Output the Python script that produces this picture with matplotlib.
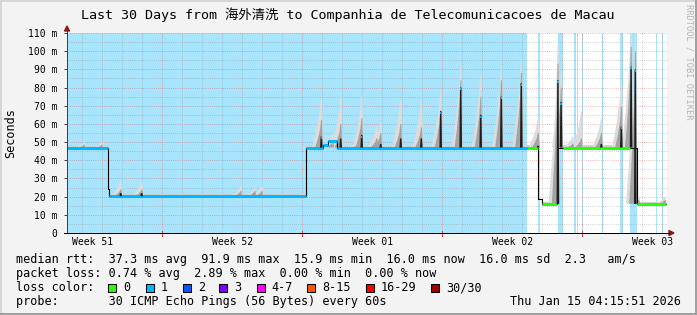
import matplotlib
matplotlib.use("Agg")
import matplotlib.pyplot as plt
from matplotlib.lines import Line2D
from matplotlib.patches import Polygon, Rectangle

W, H = 697, 315

title = "Last 30 Days from 海外清洗 to Companhia de Telecomunicacoes de Macau"

# median rtt (ms) as flat steps, days counted from the left edge of the graph
seg_start = [0.00, 2.05, 2.12, 11.93, 11.97, 12.80, 13.05, 13.50, 22.98, 23.57, 23.73, 24.52, 24.78, 28.15, 28.50]
seg_end   = [2.05, 2.12, 11.93, 11.97, 12.80, 13.05, 13.50, 22.98, 23.57, 23.73, 24.52, 24.78, 28.15, 28.50, 29.93]
seg_rtt   = [46.5, 24.0, 20.3, 23.3, 47.0, 48.4, 50.8, 47.0, 47.0, 18.5, 16.0, 47.0, 47.0, 47.0, 16.0]
seg_loss  = [1, -1, 1, 1, 1, 1, 1, 1, 0, -1, 0, -1, 0, -1, 0]
seg_haze  = [48.5, 24.0, 21.8, 23.3, 48.5, 49.5, 52.0, 48.5, 48.5, 18.5, 17.2, 47.0, 48.5, 47.0, 17.2]

# smoke spikes: day, base, top of light smoke, top of darker smoke, top of dark core (0 = none)
spike_day  = [0.85, 1.75, 2.70, 3.75, 8.70, 9.40, 9.75, 12.73, 13.30, 13.70, 14.50, 14.75, 15.50, 15.70,
              16.70, 17.73, 18.70, 19.70, 20.70, 21.73, 22.73, 23.57, 24.56, 24.72, 25.30, 25.73, 26.73,
              27.73, 28.22, 28.43, 28.60, 29.90]
spike_base = [46.5, 46.5, 20.3, 20.3, 20.3, 20.3, 20.3, 47, 47, 47, 47, 47, 47, 47,
              47, 47, 47, 47, 47, 47, 47, 47, 16, 47, 47, 47, 47,
              47, 47, 16, 16, 16]
spike_peak = [50, 50, 29, 28, 26, 25, 26, 75, 55, 75, 50, 75, 59, 61,
              74, 74, 78.6, 92.4, 88, 92.4, 95, 63, 103.4, 90, 53, 66.7, 63,
              83, 112, 110, 20, 20]
spike_mid  = [48.5, 48.5, 24, 24, 23, 23, 23, 62, 50, 60, 48, 63, 52, 55,
              60, 58, 67.6, 84, 75, 84, 88, 55, 93, 80, 49, 52, 55,
              69.5, 102.5, 100, 18, 18]
spike_core = [0, 0, 22, 22, 0, 0, 0, 53, 0, 52, 0, 54, 0, 49,
              52, 52, 67, 80, 65, 75, 82.4, 48, 84, 72, 0, 0, 49,
              58.5, 91.5, 90, 0, 0]

# light blue background spans
bg_start = [0.00, 23.57, 24.55, 25.35, 25.48, 25.75, 26.73, 27.65, 28.15, 29.45, 29.73]
bg_end   = [23.00, 23.65, 24.80, 25.43, 25.55, 25.80, 26.82, 27.78, 28.50, 29.52, 29.82]

loss_colors = {0: "#26ff00", 1: "#00b8ff"}

week_labels = ["Week 51", "Week 52", "Week 01", "Week 02", "Week 03"]
y_tick_labels = ["0", "10 m", "20 m", "30 m", "40 m", "50 m", "60 m", "70 m", "80 m", "90 m", "100 m", "110 m"]

legend_names = ["0", "1", "2", "3", "4-7", "8-15", "16-29", "30/30"]
legend_colors = ["#26ff00", "#00b8ff", "#0059ff", "#7e00ff", "#ff00ff", "#ff5500", "#ff0000", "#a10000"]

row_rtt = "median rtt:  37.3 ms avg  91.9 ms max  15.9 ms min  16.0 ms now  16.0 ms sd  2.3   am/s"
row_loss = "packet loss: 0.74 % avg  2.89 % max  0.00 % min  0.00 % now"
row_probe = "probe:       30 ICMP Echo Pings (56 Bytes) every 60s"
stamp = "Thu Jan 15 04:15:51 2026"

MONO = "DejaVu Sans Mono"


def fx(px):
    return px / W


def fy(py):
    return 1 - py / H


fig = plt.figure(figsize=(W / 100, H / 100), dpi=100, facecolor="#f3f3f3")
ax = fig.add_axes([fx(67), fy(233), 600 / W, 200 / H])
ax.set_xlim(0, 30)
ax.set_ylim(0, 110)
ax.set_facecolor("white")
for s in ax.spines.values():
    s.set_visible(False)

for a, b in zip(bg_start, bg_end):
    ax.axvspan(a, b, color="#a8e4fc", lw=0, zorder=0.5)

# grid
dots = (0, (0.72, 1.44))
red_grid = (0.85, 0.25, 0.25, 0.45)
gray_grid = (0.55, 0.55, 0.55, 0.5)
for k in range(30):
    ax.axvline(0.77 + k, color=red_grid if (k - 4) % 7 == 0 else gray_grid,
               lw=0.72, ls=dots, zorder=1)
for v in range(5, 111, 5):
    ax.axhline(v, color=red_grid if v % 10 == 0 else gray_grid, lw=0.72, ls=dots, zorder=1)

# haze just above the median
for a, b, v, t in zip(seg_start, seg_end, seg_rtt, seg_haze):
    if t > v:
        ax.fill_between([a, b], v, t, color="#d2d2d2", lw=0, zorder=1.5)

# smoke spikes
for d, base, peak, mid, core in zip(spike_day, spike_base, spike_peak, spike_mid, spike_core):
    for top, wl, wr, col, z in [(peak, 0.48, 0.08, "#dcdcdc", 2.0),
                               (mid, 0.32, 0.06, "#a4a4a4", 2.1)]:
        h = top - base
        ax.fill([d - wl, d - wl * 0.6, d - wl * 0.25, d - 0.03, d + 0.02, d + wr],
                [base, base + h * 0.3, base + h * 0.65, top, top, base],
                color=col, lw=0, zorder=z)
    if core:
        ax.fill([d - 0.08, d - 0.05, d + 0.02, d + 0.05],
                [base, core, core, base], color="#1e1e1e", lw=0, zorder=3.5)
        if core - base > 5:
            # median pixels with one lost ping inside the spike
            ax.hlines(core - 1, d - 0.05, d + 0.02, colors=loss_colors[1], lw=1.4, zorder=3.6)

# median: black connectors and loss-coloured steps
xs, ys = [], []
for a, b, v in zip(seg_start, seg_end, seg_rtt):
    xs += [a, b]
    ys += [v, v]
ax.plot(xs, ys, color="black", lw=0.8, zorder=2.5)
for a, b, v, l in zip(seg_start, seg_end, seg_rtt, seg_loss):
    if l >= 0:
        ax.hlines(v, a, b, colors=loss_colors[l], lw=2.2, zorder=3)

# ticks and labels
ax.set_yticks(range(0, 111, 10), y_tick_labels)
ax.set_xticks([1.29 + 7 * k for k in range(5)], week_labels)
ax.tick_params(axis="x", length=0, pad=3, labelsize=7.05)
ax.tick_params(axis="y", length=2, width=0.7, color="#404040", pad=5, labelsize=7.05)
for lab in ax.get_xticklabels() + ax.get_yticklabels():
    lab.set_family(MONO)
    lab.set_clip_on(False)
for k in range(4):
    ax.plot([4.77 + 7 * k] * 2, [-1.5, 1.0], color="#d04040", lw=0.72, clip_on=False, zorder=5)

# axis lines with arrows
fig.add_artist(Line2D([fx(67), fx(67)], [fy(233), fy(29)], color="#404040", lw=0.72))
fig.add_artist(Line2D([fx(64), fx(669)], [fy(233), fy(233)], color="black", lw=0.72))
fig.add_artist(Polygon([(fx(64.5), fy(31)), (fx(69.5), fy(31)), (fx(67), fy(26))],
                       closed=True, color="#8b1a1a", transform=fig.transFigure))
fig.add_artist(Polygon([(fx(669), fy(230.5)), (fx(669), fy(235.5)), (fx(674), fy(233))],
                       closed=True, color="#8b1a1a", transform=fig.transFigure))

# titles
fig.text(fx(347.5), fy(19), title, ha="center", va="baseline", fontsize=9.6,
         family=[MONO, "Noto Sans CJK SC"])
fig.text(fx(10.5), fy(133), "Seconds", rotation=90, ha="center", va="center",
         fontsize=8.5, family=MONO)
fig.text(fx(688.5), fy(4), "RRDTOOL / TOBI OETIKER", rotation=270, ha="center", va="top",
         fontsize=6.2, family=MONO, color="#b4b4b4")

# legend rows
fig.text(fx(16), fy(263.3), row_rtt, ha="left", va="baseline", fontsize=8.5, family=MONO)
fig.text(fx(16), fy(277.3), row_loss, ha="left", va="baseline", fontsize=8.5, family=MONO)
fig.text(fx(16), fy(291.3), "loss color:", ha="left", va="baseline", fontsize=8.5, family=MONO)
box_x = [108.3, 145.7, 182.7, 219.3, 256.7, 307.3, 366.0, 431.0]
for bx, name, col in zip(box_x, legend_names, legend_colors):
    fig.add_artist(Rectangle((fx(bx), fy(291.5)), 8 / W, 8 / H, transform=fig.transFigure,
                             facecolor=col, edgecolor="black", lw=0.75))
    fig.text(fx(bx + 15), fy(291.3), name, ha="left", va="baseline", fontsize=8.5, family=MONO)
fig.text(fx(16), fy(305), row_probe, ha="left", va="baseline", fontsize=8.5, family=MONO)
fig.text(fx(681), fy(305), stamp, ha="right", va="baseline", fontsize=8.5, family=MONO)

# frame
fig.add_artist(Rectangle((0, fy(2)), 1, 2 / H, transform=fig.transFigure, color="#d6d6d6", lw=0))
fig.add_artist(Rectangle((0, 0), 2 / W, 1, transform=fig.transFigure, color="#d6d6d6", lw=0))
fig.add_artist(Rectangle((0, 0), 1, 2.5 / H, transform=fig.transFigure, color="#a0a0a0", lw=0))
fig.add_artist(Rectangle((fx(694.5), 0), 2.5 / W, 1, transform=fig.transFigure, color="#a0a0a0", lw=0))

fig.savefig("out.png", dpi=100, facecolor=fig.get_facecolor())
